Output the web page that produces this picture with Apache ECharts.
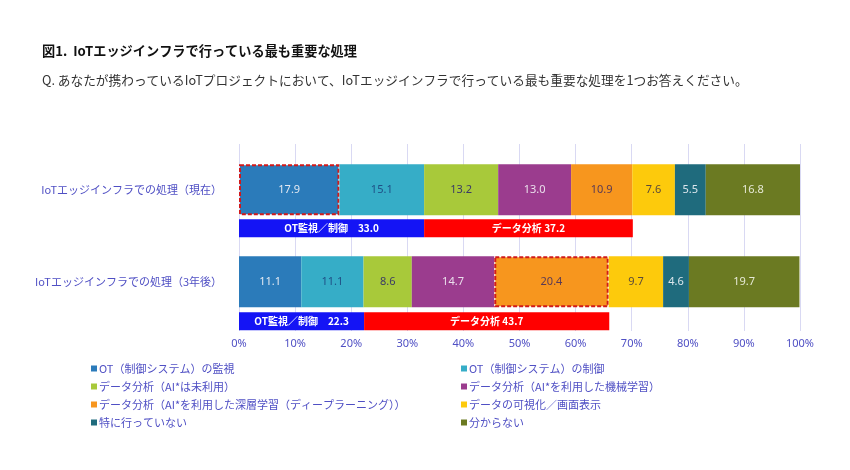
<!DOCTYPE html>
<html><head><meta charset="utf-8">
<script src="https://cdn.jsdelivr.net/npm/echarts@6/dist/echarts.min.js"></script>
<style>html,body{margin:0;padding:0;background:#fff}#c{width:850px;height:470px}</style>
</head><body><div id="c"></div>
<script>
const categories = ['IoTエッジインフラでの処理（現在）', 'IoTエッジインフラでの処理（3年後）'];
const seriesNames = ['OT（制御システム）の監視', 'OT（制御システム）の制御', 'データ分析（AI*は未利用）', 'データ分析（AI*を利用した機械学習）', 'データ分析（AI*を利用した深層学習（ディープラーニング））', 'データの可視化／画面表示', '特に行っていない', '分からない'];
const valuesNow = [17.9, 15.1, 13.2, 13.0, 10.9, 7.6, 5.5, 16.8];
const values3y  = [11.1, 11.1, 8.6, 14.7, 20.4, 9.7, 4.6, 19.7];
const highlightNow = 0;   // index of dashed-border segment, current
const highlight3y = 4;    // index of dashed-border segment, 3 years later
const summaryNames = ['OT監視／制御', 'データ分析'];
const summaryOT = [33.0, 22.3];
const summaryData = [37.2, 43.7];
const xTicks = [0, 10, 20, 30, 40, 50, 60, 70, 80, 90, 100];

const colors = ['#2b7bba', '#36adc7', '#a8c93a', '#9b3c8e', '#f7961e', '#fdca0c', '#1f6b7d', '#6b7a22'];
const labelColors = ['#e3e9f2', '#1f4f86', '#3a3a66', '#eadfec', '#5a3a55', '#5a4a3a', '#dbe6ec', '#e6e9d6'];
const summaryColors = ['#1414f5', '#ff0000'];
const axisTextColor = '#4f4fc4';

const dashed = {borderColor: '#d11a1a', borderType: [4, 2], borderWidth: 2};

const mainSeries = seriesNames.map((name, i) => ({
  name, type: 'bar', stack: 'main', xAxisIndex: 1, yAxisIndex: 1, barWidth: 51,
  itemStyle: {color: colors[i]},
  label: {show: true, position: 'inside', color: labelColors[i], fontSize: 11,
    fontFamily: 'Noto Sans', formatter: p => p.value.toFixed(1)},
  data: [
    i === highlightNow ? {value: valuesNow[i], itemStyle: dashed} : valuesNow[i],
    i === highlight3y ? {value: values3y[i], itemStyle: dashed} : values3y[i]
  ]
}));

const sumVals = [summaryOT, summaryData];
const sumSeries = summaryNames.map((name, i) => ({
  name: name, type: 'bar', stack: 'sum', xAxisIndex: 2, yAxisIndex: 2, barWidth: 18,
  itemStyle: {color: summaryColors[i]},
  label: {show: true, position: 'inside', color: '#fff', fontSize: 10, fontWeight: 'bold',
    fontFamily: 'Noto Sans CJK JP',
    formatter: p => name + (i === 0 ? '　' : ' ') + p.value.toFixed(1)},
  data: sumVals[i]
}));

const legendItems = seriesNames.map(n => ({name: n, icon: 'rect'}));
const legendCommon = {
  orient: 'vertical', itemWidth: 6, itemHeight: 6, itemGap: 7, top: 358,
  textStyle: {color: axisTextColor, fontSize: 11, fontFamily: 'Noto Sans CJK JP', padding: [0, 0, 0, -3]},
  selectedMode: false
};

const chart = echarts.init(document.getElementById('c'), null, {renderer: 'canvas'});
chart.setOption({
  animation: false,
  title: [
    {text: '図1.  IoTエッジインフラで行っている最も重要な処理', left: 37, top: 39,
      textStyle: {fontSize: 13.2, fontWeight: 'bold', color: '#111', fontFamily: 'Noto Sans CJK JP'}},
    {text: 'Q. あなたが携わっているIoTプロジェクトにおいて、IoTエッジインフラで行っている最も重要な処理を1つお答えください。', left: 37, top: 69,
      textStyle: {fontSize: 12.7, fontWeight: 'normal', color: '#333', fontFamily: 'Noto Sans CJK JP'}}
  ],
  legend: [
    Object.assign({left: 86, data: [0, 2, 4, 6].map(i => legendItems[i])}, legendCommon),
    Object.assign({left: 456, data: [1, 3, 5, 7].map(i => legendItems[i])}, legendCommon)
  ],
  grid: [
    {left: 239, width: 561, top: 144, height: 187},
    {left: 239, width: 561, top: 143.7, height: 184},
    {left: 239, width: 561, top: 181.8, height: 186}
  ],
  xAxis: [
    {gridIndex: 0, type: 'value', min: xTicks[0], max: xTicks[xTicks.length - 1], interval: xTicks[1] - xTicks[0],
      axisLine: {show: false}, axisTick: {show: false},
      splitLine: {show: true, lineStyle: {color: '#d9d9f3', width: 1}},
      axisLabel: {formatter: '{value}%', color: axisTextColor, fontSize: 11, margin: 7, fontFamily: 'Noto Sans'}},
    {gridIndex: 1, type: 'value', min: 0, max: 100, show: false},
    {gridIndex: 2, type: 'value', min: 0, max: 100, show: false}
  ],
  yAxis: [
    {gridIndex: 0, type: 'value', show: false, min: 0, max: 1},
    {gridIndex: 1, type: 'category', inverse: true, data: categories,
      axisLine: {show: false}, axisTick: {show: false},
      axisLabel: {color: axisTextColor, fontSize: 11, margin: 17, fontFamily: 'Noto Sans CJK JP'}},
    {gridIndex: 2, type: 'category', inverse: true, data: categories, show: false}
  ],
  series: mainSeries.concat(sumSeries)
});
</script></body></html>
